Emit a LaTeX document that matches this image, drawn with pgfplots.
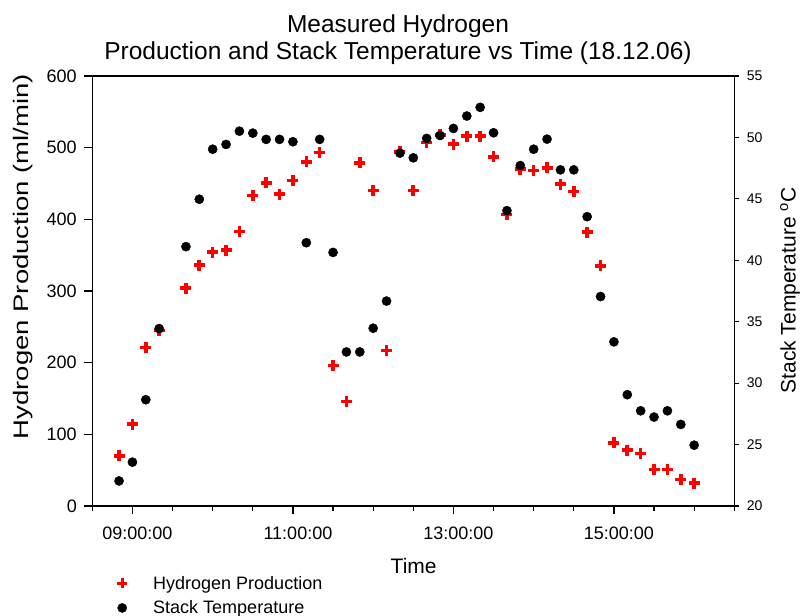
\documentclass[border=0pt]{standalone}
\usepackage{fontspec}
\setmainfont{Liberation Sans}
\usepackage{graphicx}
\usepackage{pgfplots}
\pgfplotsset{compat=1.18}
\usepackage{pgfplotstable}

\pgfplotstableread{
t h
8.8333 70
9.0 114
9.1667 221
9.3333 245
9.6667 304
9.8333 336
10.0 354
10.1667 357
10.3333 383
10.5 433
10.6667 451
10.8333 435
11.0 454
11.1667 480
11.3333 493
11.5 196
11.6667 146
11.8333 479
12.0 440
12.1667 217
12.3333 494
12.5 440
12.6667 507
12.8333 518
13.0 505
13.1667 516
13.3333 516
13.5 487
13.6667 407
13.8333 470
14.0 468
14.1667 472
14.3333 449
14.5 439
14.6667 382
14.8333 335
15.0 88
15.1667 78
15.3333 73
15.5 51
15.6667 51
15.8333 37
16.0 32
}\hdata

\pgfplotstableread{
t temp
8.8333 22.04
9.0 23.57
9.1667 28.65
9.3333 34.44
9.6667 41.11
9.8333 44.97
10.0 49.04
10.1667 49.43
10.3333 50.51
10.5 50.35
10.6667 49.84
10.8333 49.84
11.0 49.65
11.1667 41.43
11.3333 49.84
11.5 40.64
11.6667 32.54
11.8333 32.54
12.0 34.47
12.1667 36.68
12.3333 48.72
12.5 48.34
12.6667 49.92
12.8333 50.16
13.0 50.73
13.1667 51.74
13.3333 52.45
13.5 50.38
13.6667 44.04
13.8333 47.71
14.0 49.04
14.1667 49.86
14.3333 47.36
14.5 47.36
14.6667 43.55
14.8333 37.05
15.0 33.36
15.1667 29.06
15.3333 27.75
15.5 27.24
15.6667 27.75
15.8333 26.64
16.0 24.95
}\tdata

\pgfplotsset{
  hstyle/.style={only marks, color=red, mark=+, mark size=5.5pt, line width=3.6pt},
  tstyle/.style={only marks, color=black, mark=*, mark size=4.6pt},
}

\begin{document}
\begin{tikzpicture}
\path[use as bounding box] (-92.3pt,-110pt) rectangle (711.7pt,506pt);
\begin{axis}[
  at={(0pt,0pt)}, anchor=south west,
  scale only axis, width=642pt, height=430pt,
  xmin=8.5, xmax=16.5, ymin=0, ymax=600,
  xtick={9,11,13,15},
  xticklabels={09:00:00,11:00:00,13:00:00,15:00:00},
  minor xtick={8.5,9.5,10,10.5,11.5,12,12.5,13.5,14,14.5,15.5,16,16.5},
  ytick={0,100,...,600},
  xtick pos=bottom, ytick pos=left,
  tick align=outside,
  major tick length=8pt, minor tick length=5pt,
  axis line style={line width=1.3pt},
  every tick/.style={black, line width=1.2pt},
  /pgf/number format/assume math mode=true,
  tick label style={font=\fontsize{18}{20}\selectfont},
  xticklabel style={xshift=5pt, yshift=-9pt},
  yticklabel style={xshift=-4pt},
  xlabel={Time},
  xlabel style={at={(axis description cs:0.5006,-0.1395)}, anchor=center, font=\fontsize{21}{24}\selectfont},
  ylabel={\scalebox{1.31}[1]{Hydrogen Production (ml/min)}},
  ylabel style={at={(axis description cs:-0.108,0.580)}, anchor=center, font=\fontsize{21}{24}\selectfont},
  clip=false,
]
\addplot[hstyle] table[x=t, y=h] {\hdata};
\end{axis}
\begin{axis}[
  at={(0pt,0pt)}, anchor=south west,
  scale only axis, width=642pt, height=430pt,
  xmin=8.5, xmax=16.5, ymin=20, ymax=55,
  axis x line=none, axis y line*=right,
  ytick={20,25,...,55},
  tick align=outside,
  major tick length=5pt,
  axis line style={line width=1.3pt, -},
  every tick/.style={black, line width=1.2pt},
  /pgf/number format/assume math mode=true,
  yticklabel style={font=\fontsize{14}{16}\selectfont, xshift=4pt},
  ylabel={Stack Temperature \textsuperscript{o}C},
  ylabel style={at={(axis description cs:1.0868,0.5012)}, anchor=center, rotate=0, font=\fontsize{21}{24}\selectfont},
  legend style={at={(axis description cs:0.0385,-0.158)}, anchor=north west, draw=none, fill=none,
    font=\fontsize{18}{20}\selectfont, row sep=6pt, column sep=24pt, inner sep=0pt},
  legend cell align=left,
  clip=false,
]
\addlegendimage{hstyle, mark size=5pt, line width=3.2pt}
\addlegendentry{Hydrogen Production}
\addplot[tstyle] table[x=t, y=temp] {\tdata};
\addlegendentry{Stack Temperature}
\end{axis}
\node[anchor=base, font=\fontsize{24.5}{27}\selectfont] at (305.7pt,473pt) {Measured Hydrogen};
\node[anchor=base, font=\fontsize{24.5}{27}\selectfont] at (305.7pt,446pt) {Production and Stack Temperature vs Time (18.12.06)};
\end{tikzpicture}
\end{document}
